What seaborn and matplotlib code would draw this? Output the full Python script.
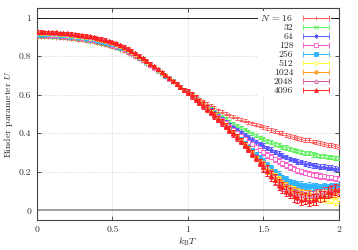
import numpy as np
import pandas as pd
import seaborn as sns
import matplotlib
matplotlib.use("Agg")
import matplotlib.pyplot as plt
from matplotlib.container import ErrorbarContainer
from matplotlib.legend_handler import HandlerErrorbar

# temperature grid (k_B T), step 0.025
T = np.round(np.arange(81) * 0.025, 3)

sizes = [16, 32, 64, 128, 256, 512, 1024, 2048, 4096]

U_16 = [.900, .900, .899, .898, .897, .896, .894, .893, .891, .889,
        .887, .885, .882, .879, .876, .872, .868, .863, .858, .852,
        .846, .840, .834, .826, .817, .808, .797, .785, .774, .761,
        .748, .735, .721, .708, .694, .680, .667, .653, .639, .626,
        .612, .600, .588, .577, .565, .553, .542, .531, .520, .511,
        .502, .494, .485, .478, .471, .465, .458, .451, .445, .439,
        .432, .426, .417, .413, .404, .400, .391, .387, .381, .375,
        .372, .366, .363, .357, .354, .348, .346, .340, .339, .333,
        .330]
U_32 = [.905, .905, .904, .903, .902, .901, .899, .898, .896, .894,
        .892, .890, .887, .884, .881, .877, .873, .868, .863, .857,
        .851, .845, .838, .830, .821, .812, .801, .789, .777, .764,
        .751, .737, .723, .709, .695, .681, .668, .654, .640, .626,
        .612, .598, .584, .569, .555, .541, .526, .512, .498, .486,
        .474, .462, .450, .439, .429, .418, .408, .398, .389, .379,
        .371, .361, .355, .345, .339, .330, .326, .317, .313, .307,
        .304, .298, .296, .290, .288, .283, .281, .276, .276, .271,
        .270]
U_64 = [.910, .910, .909, .908, .907, .906, .904, .903, .901, .899,
        .897, .895, .892, .889, .886, .882, .878, .873, .868, .862,
        .856, .850, .843, .835, .825, .815, .804, .792, .780, .767,
        .753, .739, .725, .711, .697, .683, .669, .654, .640, .626,
        .612, .597, .582, .567, .552, .536, .521, .505, .490, .475,
        .460, .445, .430, .417, .405, .392, .380, .369, .357, .346,
        .336, .323, .315, .302, .294, .284, .277, .267, .261, .253,
        .250, .242, .239, .234, .232, .227, .226, .221, .221, .216,
        .215]
U_128 = [.914, .914, .913, .912, .911, .910, .908, .907, .905, .903,
         .901, .899, .896, .893, .890, .886, .882, .877, .872, .866,
         .860, .854, .846, .838, .829, .818, .807, .795, .782, .769,
         .756, .741, .727, .712, .698, .684, .669, .655, .641, .626,
         .612, .596, .581, .565, .549, .533, .517, .500, .484, .467,
         .451, .434, .418, .403, .387, .372, .357, .342, .328, .314,
         .301, .287, .278, .265, .256, .244, .236, .224, .216, .207,
         .203, .195, .191, .185, .183, .178, .176, .171, .171, .166,
         .165]
U_256 = [.917, .917, .916, .915, .914, .913, .911, .910, .908, .906,
         .904, .902, .899, .896, .893, .889, .885, .880, .875, .869,
         .863, .857, .849, .841, .831, .821, .809, .797, .784, .771,
         .757, .743, .728, .714, .699, .685, .670, .656, .641, .627,
         .612, .596, .580, .563, .547, .530, .513, .495, .478, .460,
         .442, .423, .405, .386, .368, .349, .330, .311, .292, .274,
         .256, .236, .220, .200, .186, .170, .161, .148, .143, .135,
         .134, .128, .129, .124, .126, .122, .125, .121, .126, .124,
         .127]
U_512 = [.920, .920, .919, .918, .917, .916, .914, .913, .911, .909,
         .907, .905, .902, .899, .896, .892, .888, .883, .878, .872,
         .866, .859, .852, .843, .833, .823, .811, .798, .786, .772,
         .758, .744, .729, .715, .700, .685, .671, .656, .641, .627,
         .612, .596, .579, .563, .546, .529, .511, .494, .476, .457,
         .437, .418, .398, .378, .358, .338, .318, .298, .277, .257,
         .238, .215, .199, .177, .161, .142, .130, .115, .106, .094,
         .089, .079, .076, .068, .067, .062, .063, .057, .056, .048,
         .058]
U_1024 = [.922, .922, .921, .920, .919, .918, .916, .915, .913, .911,
          .909, .907, .904, .901, .898, .894, .890, .885, .880, .874,
          .868, .861, .854, .845, .835, .824, .812, .800, .787, .773,
          .760, .745, .730, .715, .700, .686, .671, .656, .641, .627,
          .612, .596, .579, .562, .546, .529, .511, .494, .476, .457,
          .438, .419, .400, .380, .360, .340, .320, .298, .276, .255,
          .234, .210, .193, .170, .153, .136, .125, .110, .103, .094,
          .092, .086, .086, .082, .087, .085, .089, .088, .093, .091,
          .095]
U_2048 = [.925, .925, .924, .923, .922, .921, .919, .918, .916, .914,
          .912, .910, .907, .904, .901, .897, .893, .888, .883, .877,
          .871, .864, .856, .847, .837, .826, .815, .802, .789, .775,
          .761, .746, .731, .716, .701, .686, .671, .656, .641, .627,
          .612, .595, .578, .562, .545, .528, .510, .493, .475, .456,
          .438, .419, .400, .380, .360, .340, .320, .297, .274, .251,
          .229, .204, .186, .160, .141, .122, .111, .096, .089, .080,
          .079, .073, .077, .078, .087, .088, .097, .097, .106, .104,
          .110]
U_4096 = [.927, .927, .926, .925, .924, .923, .921, .920, .918, .916,
          .914, .912, .909, .906, .903, .899, .895, .890, .885, .879,
          .873, .866, .858, .849, .839, .828, .816, .803, .790, .776,
          .762, .747, .732, .717, .702, .687, .672, .657, .642, .627,
          .613, .596, .579, .562, .545, .528, .510, .493, .475, .456,
          .438, .419, .400, .379, .359, .338, .318, .294, .271, .248,
          .225, .205, .178, .160, .133, .120, .100, .090, .072, .068,
          .055, .060, .050, .056, .058, .072, .075, .094, .096, .110,
          .105]

# error bar half-lengths: below T=1, 1<=T<1.5, T>=1.5
err_16 = [.004, .008, .010]
err_32 = [.004, .008, .011]
err_64 = [.004, .009, .012]
err_128 = [.005, .010, .014]
err_256 = [.005, .011, .016]
err_512 = [.005, .012, .018]
err_1024 = [.006, .013, .020]
err_2048 = [.006, .015, .024]
err_4096 = [.007, .017, .028]

U_all = [U_16, U_32, U_64, U_128, U_256, U_512, U_1024, U_2048, U_4096]
err_all = [err_16, err_32, err_64, err_128, err_256, err_512, err_1024,
           err_2048, err_4096]

df = pd.DataFrame({
    "T": np.tile(T, len(sizes)),
    "U": np.concatenate(U_all),
    "N": np.repeat(sizes, len(T)),
})
df["err"] = np.concatenate([
    np.select([T < 1.0, T < 1.5], [e[0], e[1]], e[2]) for e in err_all])

# gnuplot-like point types and colours
colors = {16: "#ff5a5a", 32: "#5cf05c", 64: "#5a5aff", 128: "#ff55c8",
          256: "#30b4ff", 512: "#ffff30", 1024: "#ff9a20", 2048: "#cc5a9a",
          4096: "#ff2020"}
markers = {16: "+", 32: "x", 64: (8, 2, 0), 128: "s", 256: "s", 512: "o",
           1024: "o", 2048: "^", 4096: "^"}
hollow = {128, 512, 2048}
msizes = {16: 3.2, 32: 2.8, 64: 3.2, 128: 2.8, 256: 2.6, 512: 2.8,
          1024: 2.6, 2048: 3.0, 4096: 3.0}

sns.set_style("ticks")
plt.rcParams["font.family"] = ["cmr10"]
plt.rcParams["mathtext.fontset"] = "cm"
plt.rcParams["axes.formatter.use_mathtext"] = True

fig, ax = plt.subplots(figsize=(3.58, 2.5), dpi=100)
fig.subplots_adjust(left=0.103, right=0.947, bottom=0.12, top=0.968)

handles = []
for i, n in enumerate(sizes):
    sub = df[df["N"] == n]
    c = colors[n]
    mfc = "white" if n in hollow else c
    ax.errorbar(sub["T"], sub["U"], yerr=sub["err"], fmt="none", ecolor=c,
                elinewidth=0.7, capsize=1.5, capthick=0.7, zorder=3 + 2 * i)
    sns.lineplot(x=sub["T"].values, y=sub["U"].values, ax=ax, color=c,
                 marker=markers[n], ms=msizes[n], mfc=mfc, mec=c, mew=0.6,
                 linestyle="", errorbar=None, sort=False, zorder=4 + 2 * i)
    h = ax.errorbar([np.nan], [np.nan], xerr=[1], marker=markers[n],
                    linestyle="none", color=c, ms=msizes[n] * 0.9, mfc=mfc,
                    mec=c, mew=0.6, elinewidth=0.7, capsize=2.2, capthick=0.7)
    handles.append(h)

labels = ["$N$ = 16"] + [str(n) for n in sizes[1:]]

ax.axhline(1.0, color="black", lw=0.6, zorder=2)
ax.axhline(0.0, color="#999999", lw=1.3, zorder=2)

ax.set_xlim(0, 2)
ax.set_ylim(-0.05, 1.05)
xticks = [0, 0.5, 1, 1.5, 2]
xtick_labels = ["0", "0.5", "1", "1.5", "2"]
yticks = [0, 0.2, 0.4, 0.6, 0.8, 1]
ytick_labels = ["0", "0.2", "0.4", "0.6", "0.8", "1"]
ax.set_xticks(xticks, xtick_labels)
ax.set_yticks(yticks, ytick_labels)
ax.grid(True, linestyle=":", color="#c8c8c8", lw=0.6, zorder=1)
ax.tick_params(direction="in", top=True, right=True, length=3, width=0.6,
               labelsize=7, colors="#333333", pad=4)
for s in ax.spines.values():
    s.set_color("#444444")
    s.set_linewidth(0.8)

ax.set_xlabel(r"$k_\mathrm{B}T$", fontsize=7, labelpad=1)
ax.set_ylabel(r"Binder parameter $U$", fontsize=7, labelpad=3)

leg = ax.legend(handles, labels, loc="upper right",
                bbox_to_anchor=(0.99, 1.008), markerfirst=False,
                frameon=True, fancybox=False, edgecolor="none",
                facecolor="white", framealpha=1, fontsize=7,
                handlelength=2.7, labelspacing=0.02, handletextpad=1.0,
                borderpad=0.2,
                handler_map={ErrorbarContainer: HandlerErrorbar(xerr_size=1.35)})
leg.set_zorder(30)

fig.savefig("out.png", dpi=100)
